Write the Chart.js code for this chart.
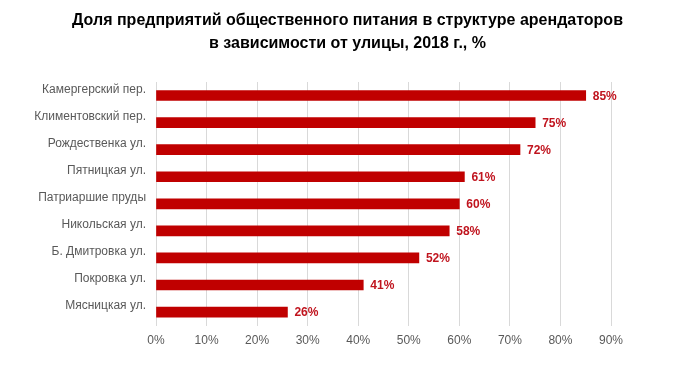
<!DOCTYPE html>
<html>
<head>
<meta charset="utf-8">
<script src="https://cdn.jsdelivr.net/npm/chart.js@4"></script>
<style>
    html, body { margin: 0; padding: 0; background: #fff; }
    #wrap { width: 697px; height: 367px; }
</style>
</head>
<body>
<div id="wrap"><canvas id="chart"></canvas></div>
<script>
const streets = ['Камергерский пер.', 'Климентовский пер.', 'Рождественка ул.', 'Пятницкая ул.',
    'Патриаршие пруды', 'Никольская ул.', 'Б. Дмитровка ул.', 'Покровка ул.', 'Мясницкая ул.'];
const shares = [85, 75, 72, 61, 60, 58, 52, 41, 26];
const titleLines = ['Доля предприятий общественного питания в структуре арендаторов',
    'в зависимости от улицы, 2018 г., %'];

// value labels at the end of each bar
const valueLabels = {
    id: 'valueLabels',
    afterDatasetsDraw(chart) {
        const ctx = chart.ctx;
        const meta = chart.getDatasetMeta(0);
        ctx.save();
        ctx.font = 'bold 12px "Liberation Sans", Arial, sans-serif';
        ctx.fillStyle = '#c0141e';
        ctx.textAlign = 'left';
        ctx.textBaseline = 'middle';
        meta.data.forEach((bar, i) => {
            ctx.fillText(shares[i] + '%', bar.x + 7, bar.y + 1);
        });
        ctx.restore();
    }
};

// title centred on the whole canvas, not on the padded layout box
const pageTitle = {
    id: 'pageTitle',
    afterDraw(chart) {
        const ctx = chart.ctx;
        ctx.save();
        ctx.font = 'bold 16px "Liberation Sans", Arial, sans-serif';
        ctx.fillStyle = '#000';
        ctx.textAlign = 'center';
        ctx.textBaseline = 'middle';
        titleLines.forEach((line, i) => ctx.fillText(line, chart.width / 2 - 1, 21 + i * 23));
        ctx.restore();
    }
};

new Chart(document.getElementById('chart'), {
    type: 'bar',
    data: {
        labels: streets,
        datasets: [{
            data: shares,
            backgroundColor: '#c00000',
            barThickness: 10
        }]
    },
    options: {
        indexAxis: 'y',
        responsive: true,
        maintainAspectRatio: false,
        animation: false,
        layout: {padding: {left: 0, right: 86, top: 82, bottom: 11}},
        plugins: {
            legend: {display: false},
            tooltip: {enabled: false},
            title: {display: false}
        },
        scales: {
            x: {
                min: 0,
                max: 90,
                ticks: {
                    stepSize: 10,
                    padding: 8,
                    color: '#595959',
                    font: {family: '"Liberation Sans", Arial, sans-serif', size: 12},
                    callback: v => v + '%'
                },
                grid: {color: '#d9d9d9', drawTicks: false},
                border: {display: false}
            },
            y: {
                ticks: {
                    padding: 10,
                    labelOffset: -6,
                    color: '#595959',
                    font: {family: '"Liberation Sans", Arial, sans-serif', size: 12}
                },
                grid: {display: false, drawTicks: false},
                border: {display: false},
                afterFit(scale) { scale.width = 156; }
            }
        }
    },
    plugins: [valueLabels, pageTitle]
});
</script>
</body>
</html>
